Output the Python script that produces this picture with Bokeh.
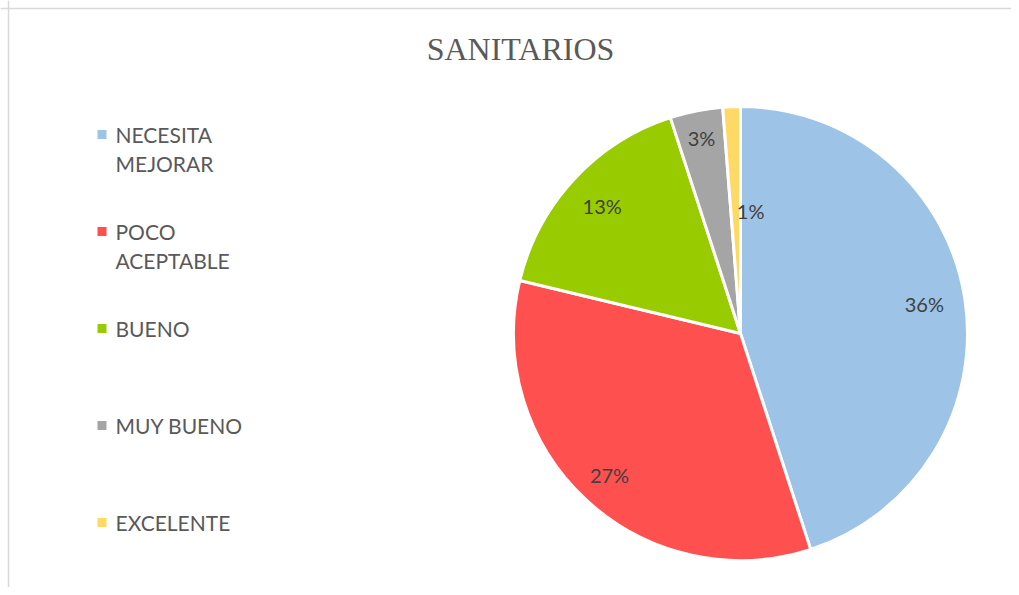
import math
from bokeh.plotting import figure
from bokeh.models import Range1d, Span, ColumnDataSource
from bokeh.core.properties import value
from bokeh.embed import file_html
from bokeh.resources import INLINE

# ---- data ----
categories = ["NECESITA MEJORAR", "POCO ACEPTABLE", "BUENO", "MUY BUENO", "EXCELENTE"]
values = [36, 27, 13, 3, 1]
pct_labels = ["36%", "27%", "13%", "3%", "1%"]
legend_lines = [["NECESITA", "MEJORAR"], ["POCO", "ACEPTABLE"], ["BUENO"], ["MUY BUENO"], ["EXCELENTE"]]
colors = ["#9DC3E6", "#FF5050", "#99CC00", "#A5A5A5", "#FFD966"]
title = "SANITARIOS"

# ---- layout / style (data units == pixels, y measured up from bottom) ----
W, H = 1011, 587
def Y(py):
    return H - py

cx, cy, R = 740, Y(333), 227
label_r = [0.82, 0.85, 0.83, 0.88, 0.54]
label_da = [0, 0, 0, 0, 7]

p = figure(width=W, height=H, output_backend="svg", toolbar_location=None,
           x_range=Range1d(0, W), y_range=Range1d(0, H), min_border=0)
p.axis.visible = False
p.grid.visible = False
p.outline_line_color = None
p.background_fill_color = "white"
p.border_fill_color = "white"

# border (top & left)
p.add_layout(Span(location=Y(8), dimension="width", line_color="#d9d9d9", line_width=1.5))
p.add_layout(Span(location=8, dimension="height", line_color="#d9d9d9", line_width=1.5))

total = sum(values)
starts, ends, lx, ly = [], [], [], []
a = 0.0  # clockwise degrees from 12 o'clock
for i, v in enumerate(values):
    frac = v / total
    starts.append(math.pi / 2 - math.radians(a))
    ends.append(math.pi / 2 - math.radians(a + frac * 360))
    mid = a + frac * 180 + label_da[i]
    rr = R * label_r[i]
    lx.append(cx + rr * math.sin(math.radians(mid)))
    ly.append(cy + rr * math.cos(math.radians(mid)))
    a += frac * 360

src = ColumnDataSource(dict(start=starts, end=ends, color=colors, lx=lx, ly=ly, lab=pct_labels))
p.wedge(x=cx, y=cy, radius=R, radius_units="screen", start_angle="start", end_angle="end",
        direction="clock", fill_color="color", line_color="white", line_width=3, source=src)
p.text(x="lx", y="ly", text="lab", source=src, text_align="center", text_baseline="middle",
       text_font=value("Lato"), text_font_size="20px", text_color="#404040")

# title
p.text(x=[520], y=[Y(48)], text=[title], text_align="center", text_baseline="middle",
       text_font=value("Liberation Serif"), text_font_size="32px", text_color="#595959")

# legend
sq_x, tx = 101.5, 115
y0, dy, lh = Y(134), 97, 29
sqx, sqy, tx_l, ty_l, tt = [], [], [], [], []
for i, lines in enumerate(legend_lines):
    yy = y0 - i * dy
    sqx.append(sq_x)
    sqy.append(yy)
    for j, ln in enumerate(lines):
        tx_l.append(tx)
        ty_l.append(yy - j * lh)
        tt.append(ln)
p.scatter(x=sqx, y=sqy, marker="square", size=9, fill_color=colors, line_color=None)
p.text(x=tx_l, y=ty_l, text=tt, text_align="left", text_baseline="middle",
       text_font=value("Lato"), text_font_size="21px", text_color="#595959")

open("out.html", "w").write(file_html(p, INLINE))
